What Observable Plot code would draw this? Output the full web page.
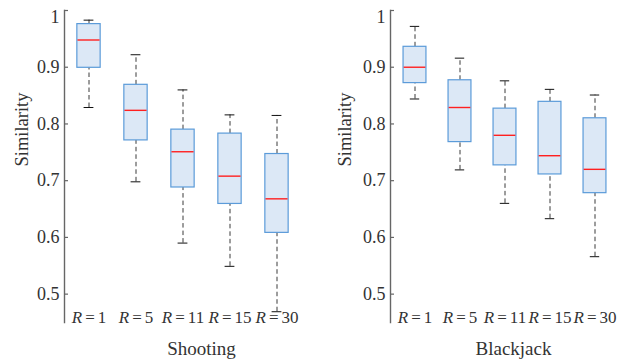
<!DOCTYPE html>
<html>
<head>
<meta charset="utf-8">
<script src="https://cdn.jsdelivr.net/npm/d3@7"></script>
<script src="https://cdn.jsdelivr.net/npm/@observablehq/plot@0.6"></script>
<style>
  html, body { margin: 0; padding: 0; background: #fff; }
  #wrap { position: relative; width: 630px; height: 361px; overflow: hidden; }
  #left, #right { position: absolute; top: 0; }
  #left { left: 0; }
  #right { left: 315px; }
</style>
</head>
<body>
<div id="wrap"><div id="left"></div><div id="right"></div></div>
<script>
// Categories (radius R) and tick labels
const categories = ["R = 1", "R = 5", "R = 11", "R = 15", "R = 30"];
const yTicks = [0.5, 0.6, 0.7, 0.8, 0.9, 1];

// Shooting
const shootMin = [0.829, 0.698, 0.590, 0.549, 0.469];
const shootQ1  = [0.899, 0.771, 0.688, 0.659, 0.608];
const shootMed = [0.948, 0.824, 0.751, 0.708, 0.668];
const shootQ3  = [0.976, 0.869, 0.790, 0.783, 0.747];
const shootMax = [0.983, 0.922, 0.860, 0.816, 0.815];

// Blackjack
const bjMin = [0.844, 0.719, 0.660, 0.633, 0.566];
const bjQ1  = [0.872, 0.768, 0.727, 0.711, 0.678];
const bjMed = [0.900, 0.829, 0.780, 0.744, 0.720];
const bjQ3  = [0.936, 0.877, 0.827, 0.839, 0.810];
const bjMax = [0.972, 0.916, 0.876, 0.861, 0.851];

const FONT = "Liberation Serif, Tinos, Times New Roman, DejaVu Serif, serif";

function rows(mn, q1, md, q3, mx) {
  return categories.map((c, i) => ({cat: c, min: mn[i], q1: q1[i], med: md[i], q3: q3[i], max: mx[i]}));
}

function panel({data, title, marginLeft, marginRight, ylabelDx, titleDx}) {
  const W = 315, H = 361, mt = 10, mb = 39;
  const inner = W - marginLeft - marginRight;
  const step = inner / categories.length;
  const boxInset = (step - 23.5) / 2;
  const capInset = (step - 10) / 2;
  const textColor = "#333";
  const fmt = d => d === 1 ? "1" : d.toFixed(1);
  const svg = Plot.plot({
    width: W, height: H,
    marginTop: mt, marginBottom: mb, marginLeft, marginRight,
    style: `font-family: ${FONT}; background: #fff; color: ${textColor};`,
    x: {domain: categories, padding: 0, axis: null},
    y: {domain: [0.45, 1], axis: null},
    marks: [
      // whiskers (dashed)
      Plot.ruleX(data, {x: "cat", y1: "q3", y2: "max", stroke: "#3a3a3a", strokeWidth: 1, strokeDasharray: "4.5,3"}),
      Plot.ruleX(data, {x: "cat", y1: "min", y2: "q1", stroke: "#3a3a3a", strokeWidth: 1, strokeDasharray: "4.5,3"}),
      // caps
      Plot.tickY(data, {x: "cat", y: "max", stroke: "#111", strokeWidth: 1, insetLeft: capInset, insetRight: capInset}),
      Plot.tickY(data, {x: "cat", y: "min", stroke: "#111", strokeWidth: 1, insetLeft: capInset, insetRight: capInset}),
      // boxes
      Plot.barY(data, {x: "cat", y1: "q1", y2: "q3", fill: "#dce8f6", stroke: "#5b9bd9", strokeWidth: 1.2,
        insetLeft: boxInset, insetRight: boxInset}),
      // medians
      Plot.tickY(data, {x: "cat", y: "med", stroke: "#ff2020", strokeWidth: 1.4, insetLeft: boxInset + 0.6, insetRight: boxInset + 0.6}),
      // y axis line
      Plot.frame({anchor: "left", stroke: "#666", strokeWidth: 1.4}),
      // inward tick marks
      Plot.tickY(yTicks, {y: d => d, stroke: "#666", strokeWidth: 1.2, insetRight: inner - 4}),
      // y tick labels (top label nudged down to stay inside the figure)
      Plot.axisY(yTicks.filter(d => d < 1), {tickSize: 0, tickPadding: 5, fontSize: 18, fill: textColor, fontFamily: FONT, tickFormat: fmt}),
      Plot.axisY(yTicks.filter(d => d === 1), {tickSize: 0, tickPadding: 5, dy: 6.5, fontSize: 18, fill: textColor, fontFamily: FONT, tickFormat: fmt, label: null}),
      // x category labels
      Plot.axisX({anchor: "bottom", tickSize: 0, tickPadding: -11.5, fontSize: 17, fill: textColor, fontFamily: FONT, label: null}),
      // y label
      Plot.text(["Similarity"], {frameAnchor: "left", text: d => d, rotate: -90, dx: ylabelDx, dy: 0, fontSize: 18.5, fill: textColor, fontFamily: FONT}),
      // x title
      Plot.text([title], {frameAnchor: "bottom", text: d => d, dx: titleDx, dy: 19, lineAnchor: "top", fontSize: 19, fill: textColor, fontFamily: FONT})
    ]
  });
  const s = d3.select(svg);
  s.attr("font-family", FONT).style("font-family", FONT);
  // italic R in category labels
  s.selectAll("[aria-label='x-axis tick label'] text").each(function() {
    const t = this.textContent;
    const m = t.match(/^R\s*=\s*(.*)$/);
    if (!m) return;
    const el = d3.select(this);
    el.text(null);
    el.append("tspan").attr("font-style", "italic").text("R");
    el.append("tspan").attr("dx", 3).text("=");
    el.append("tspan").attr("dx", 3).text(m[1]);
  });
  s.selectAll("text").attr("font-family", FONT);
  return svg;
}

document.getElementById("left").appendChild(panel({
  data: rows(shootMin, shootQ1, shootMed, shootQ3, shootMax),
  title: "Shooting", marginLeft: 64, marginRight: 15, ylabelDx: -42, titleDx: 19
}));
document.getElementById("right").appendChild(panel({
  data: rows(bjMin, bjQ1, bjMed, bjQ3, bjMax),
  title: "Blackjack", marginLeft: 75, marginRight: 12, ylabelDx: -45, titleDx: 9
}));
</script>
</body>
</html>
